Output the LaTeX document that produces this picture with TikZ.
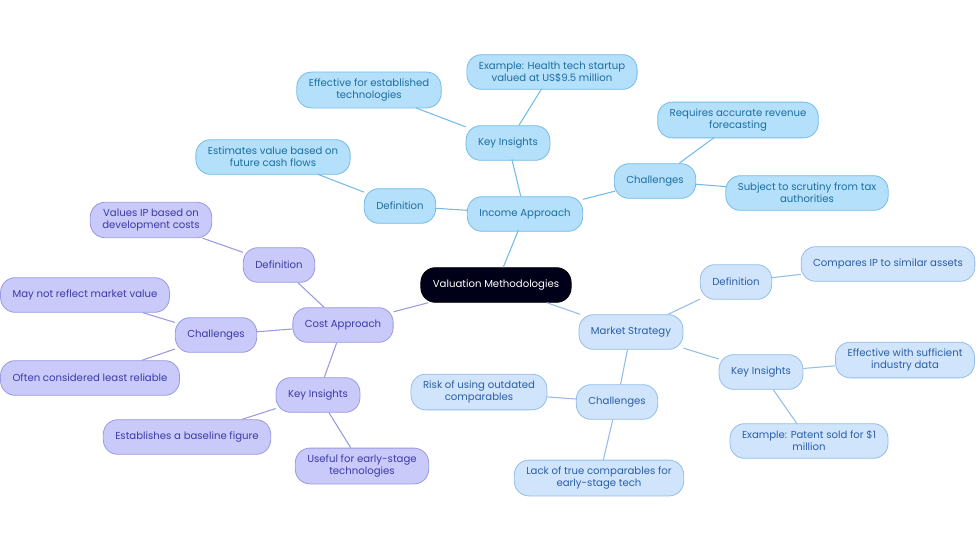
\documentclass[tikz,border=0pt]{standalone}
\usepackage{fontspec}
\setmainfont{Poppins}
\definecolor{incfill}{HTML}{B5E0FB}
\definecolor{incline}{HTML}{74BCE8}
\definecolor{inctext}{HTML}{1C6E9E}
\definecolor{costfill}{HTML}{C9C9FA}
\definecolor{costline}{HTML}{9A9AE2}
\definecolor{costtext}{HTML}{3B3BA6}
\definecolor{mktfill}{HTML}{D0E5FC}
\definecolor{mktline}{HTML}{94BDE8}
\definecolor{mkttext}{HTML}{2B5EA6}
\tikzset{
  topic/.style={rounded corners=11pt, draw, line width=0.6pt, align=center,
    inner xsep=9pt, inner ysep=5pt, minimum height=26pt,
    font=\fontsize{7.6}{9}\selectfont},
  inc/.style={topic, fill=incfill, draw=incline, text=inctext},
  cost/.style={topic, fill=costfill, draw=costline, text=costtext},
  mkt/.style={topic, fill=mktfill, draw=mktline, text=mkttext},
}
\begin{document}
\begin{tikzpicture}[x=0.75pt, y=-0.75pt]
  \useasboundingbox (0,0) rectangle (980,553);
  % Mitte
  \node[topic, fill=black!90!blue, draw=black, text=white] (root) at (496,285) {Valuation Methodologies};

  % Income Approach
  \node[inc] (inc) at (525,214) {Income Approach};
  \node[inc] (incki) at (508,143) {Key Insights};
  \node[inc] (incex) at (552,72) {Example: Health tech startup\\valued at US\$9.5 million};
  \node[inc] (inceff) at (369,90) {Effective for established\\technologies};
  \node[inc] (incdef) at (400,206) {Definition};
  \node[inc] (incest) at (273,157) {Estimates value based on\\future cash flows};
  \node[inc] (incch) at (655,181) {Challenges};
  \node[inc] (increq) at (738,120) {Requires accurate revenue\\forecasting};
  \node[inc] (incsub) at (807,193) {Subject to scrutiny from tax\\authorities};

  % Cost Approach
  \node[cost] (cost) at (343,325) {Cost Approach};
  \node[cost] (costdef) at (279,265) {Definition};
  \node[cost] (costval) at (151,220) {Values IP based on\\development costs};
  \node[cost] (costch) at (216,335) {Challenges};
  \node[cost] (costmay) at (85,295) {May not reflect market value};
  \node[cost] (costoft) at (90,378) {Often considered least reliable};
  \node[cost] (costki) at (318,395) {Key Insights};
  \node[cost] (costest) at (187,437) {Establishes a baseline figure};
  \node[cost] (costuse) at (362,466) {Useful for early-stage\\technologies};

  % Market Strategy
  \node[mkt] (mkt) at (631,332) {Market Strategy};
  \node[mkt] (mktdef) at (736,282) {Definition};
  \node[mkt] (mktcmp) at (888,264) {Compares IP to similar assets};
  \node[mkt] (mktki) at (761,372) {Key Insights};
  \node[mkt] (mkteff) at (905,360) {Effective with sufficient\\industry data};
  \node[mkt] (mktex) at (809,441) {Example: Patent sold for \$1\\million};
  \node[mkt] (mktch) at (617,402) {Challenges};
  \node[mkt] (mktrisk) at (479,392) {Risk of using outdated\\comparables};
  \node[mkt] (mktlack) at (599,478) {Lack of true comparables for\\early-stage tech};

  % Verbindungen
  \begin{scope}[on background layer/.style={}]
  \foreach \a/\b in {root/inc, inc/incki, incki/incex, incki/inceff, inc/incdef, incdef/incest, inc/incch, incch/increq, incch/incsub}
    \draw[incline, line width=0.8pt, shorten >=-1pt] (\a) -- (\b);
  \foreach \a/\b in {root/cost, cost/costdef, costdef/costval, cost/costch, costch/costmay, costch/costoft, cost/costki, costki/costest, costki/costuse}
    \draw[costline, line width=0.8pt] (\a) -- (\b);
  \foreach \a/\b in {root/mkt, mkt/mktdef, mktdef/mktcmp, mkt/mktki, mktki/mkteff, mktki/mktex, mkt/mktch, mktch/mktrisk, mktch/mktlack}
    \draw[mktline, line width=0.8pt] (\a) -- (\b);
  \end{scope}
\end{tikzpicture}
\end{document}
